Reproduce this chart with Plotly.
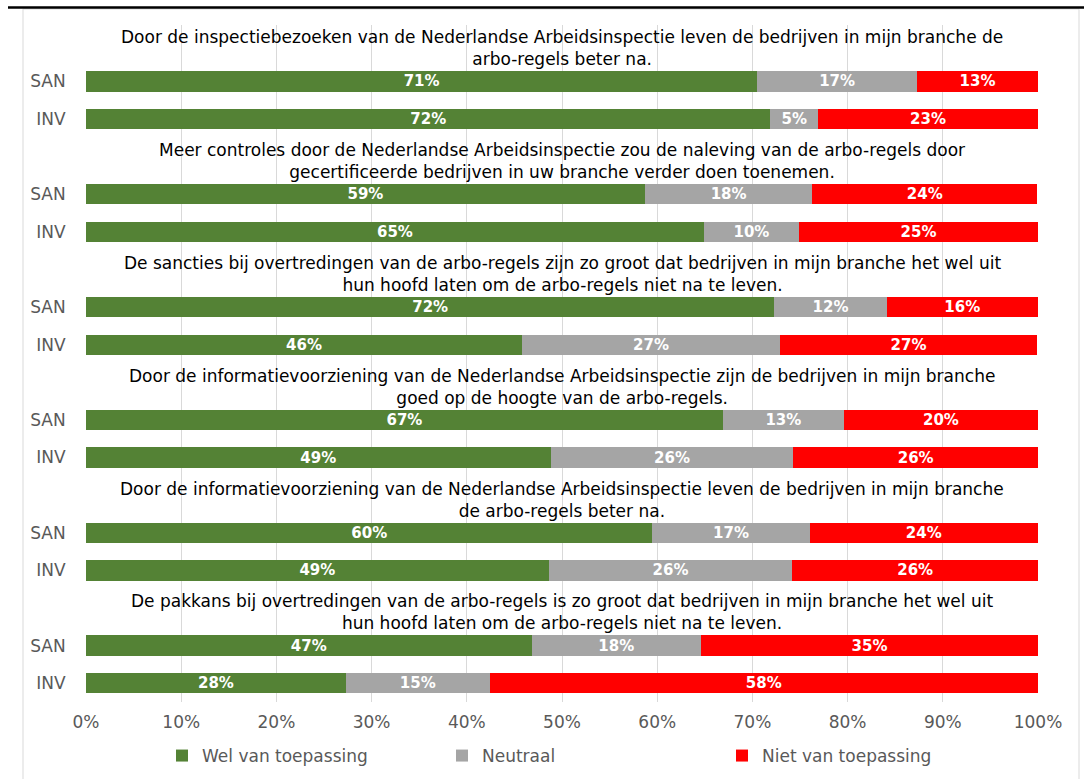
import plotly.graph_objects as go

questions = [
    "Door de inspectiebezoeken van de Nederlandse Arbeidsinspectie leven de bedrijven in mijn branche de<br>arbo-regels beter na.",
    "Meer controles door de Nederlandse Arbeidsinspectie zou de naleving van de arbo-regels door<br>gecertificeerde bedrijven in uw branche verder doen toenemen.",
    "De sancties bij overtredingen van de arbo-regels zijn zo groot dat bedrijven in mijn branche het wel uit<br>hun hoofd laten om de arbo-regels niet na te leven.",
    "Door de informatievoorziening van de Nederlandse Arbeidsinspectie zijn de bedrijven in mijn branche<br>goed op de hoogte van de arbo-regels.",
    "Door de informatievoorziening van de Nederlandse Arbeidsinspectie leven de bedrijven in mijn branche<br>de arbo-regels beter na.",
    "De pakkans bij overtredingen van de arbo-regels is zo groot dat bedrijven in mijn branche het wel uit<br>hun hoofd laten om de arbo-regels niet na te leven.",
]
groups = ["SAN", "INV"]
series_names = ["Wel van toepassing", "Neutraal", "Niet van toepassing"]

# order: Q1 SAN, Q1 INV, Q2 SAN, Q2 INV, ...
wel = [70.5, 71.9, 58.7, 64.9, 72.3, 45.8, 66.9, 48.8, 59.5, 48.6, 46.8, 27.3]
neutraal = [16.8, 5.0, 17.6, 10.0, 11.8, 27.1, 12.7, 25.5, 16.5, 25.6, 17.8, 15.1]
niet = [12.7, 23.1, 23.6, 25.1, 15.9, 27.0, 20.4, 25.7, 24.0, 25.8, 35.4, 57.6]

wel_labels = ["71%", "72%", "59%", "65%", "72%", "46%", "67%", "49%", "60%", "49%", "47%", "28%"]
neutraal_labels = ["17%", "5%", "18%", "10%", "12%", "27%", "13%", "26%", "17%", "26%", "18%", "15%"]
niet_labels = ["13%", "23%", "24%", "25%", "16%", "27%", "20%", "26%", "24%", "26%", "35%", "58%"]

colors = ["#548235", "#A5A5A5", "#FF0000"]
FONT = "DejaVu Sans"

# numeric y positions: each question takes 3 slots (title, SAN, INV)
ypos = []
ylab = []
for q in range(len(questions)):
    for j, g in enumerate(groups):
        ypos.append(3 * q + 1 + j)
        ylab.append(g)

fig = go.Figure()
for name, vals, labs, col in zip(series_names, [wel, neutraal, niet],
                                 [wel_labels, neutraal_labels, niet_labels], colors):
    fig.add_trace(go.Bar(
        y=ypos, x=vals, name=name, orientation="h",
        marker=dict(color=col, line=dict(width=0)),
        width=0.54,
        text=labs, textposition="inside", insidetextanchor="middle",
        constraintext="none",
        textfont=dict(family=FONT, size=15, color="white", weight="bold"),
        cliponaxis=False,
    ))

for q, text in enumerate(questions):
    fig.add_annotation(
        x=50, y=3 * q + 0.12, xref="x", yref="y", text=text, showarrow=False,
        font=dict(family=FONT, size=17, color="#000000"), align="center",
        xanchor="center", yanchor="middle",
    )

W, H = 1084, 779
L, R, T, B = 86, 46, 25, 77
pw, ph = W - L - R, H - T - B

def px_x(px):
    return (px - L) / pw

def px_y(py):
    return (H - B - py) / ph

fig.add_shape(type="rect", xref="paper", yref="paper",
              x0=px_x(23), x1=px_x(1079), y0=px_y(800), y1=px_y(9),
              line=dict(color="#D9D9D9", width=1), fillcolor="rgba(0,0,0,0)", layer="below")
fig.add_shape(type="line", xref="paper", yref="paper",
              x0=px_x(8), x1=px_x(1084), y0=px_y(7.5), y1=px_y(7.5),
              line=dict(color="#000000", width=2.5))

fig.update_layout(
    width=W, height=H,
    margin=dict(l=L, r=R, t=T, b=B, autoexpand=False),
    barmode="stack",
    paper_bgcolor="white", plot_bgcolor="white",
    font=dict(family=FONT, size=17, color="#595959"),
    showlegend=True,
    legend=dict(orientation="h", x=0.5 + 20 / pw, xanchor="center", y=px_y(756), yanchor="middle",
                font=dict(family=FONT, size=17, color="#595959"),
                itemwidth=30, entrywidth=235, traceorder="normal"),
    xaxis=dict(range=[0, 100], tickvals=list(range(0, 101, 10)),
               ticktext=[f"{v}%" for v in range(0, 101, 10)],
               showgrid=True, gridcolor="#D9D9D9", gridwidth=1,
               zeroline=False, showline=False,
               tickfont=dict(family=FONT, size=17, color="#595959"),
               ticks="outside", ticklen=5, tickcolor="rgba(0,0,0,0)"),
    yaxis=dict(range=[17.5, -0.5], tickvals=ypos, ticktext=ylab,
               showgrid=False, zeroline=False, showline=False,
               tickfont=dict(family=FONT, size=17, color="#595959"),
               ticks="outside", ticklen=16, tickcolor="rgba(0,0,0,0)"),
)

fig.write_html("out.html")
